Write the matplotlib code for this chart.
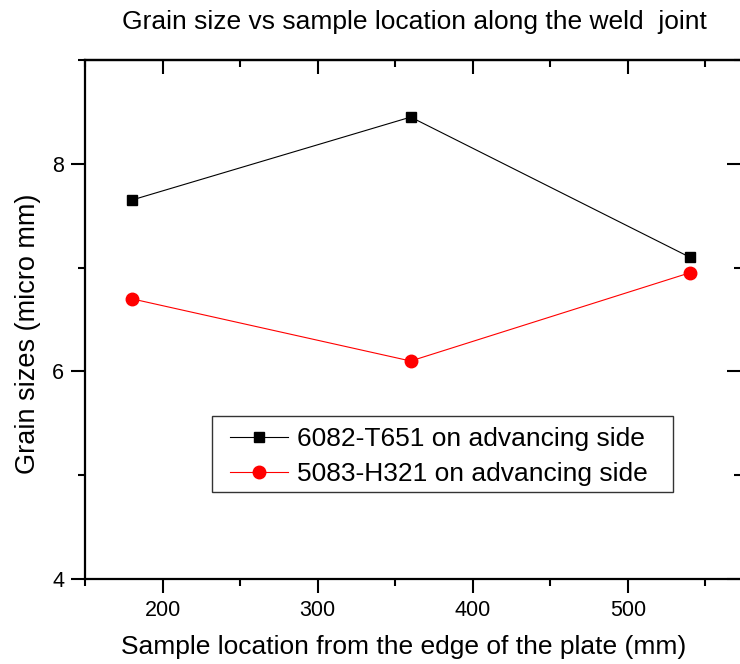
import matplotlib.pyplot as plt
from matplotlib.patches import Rectangle
from matplotlib.ticker import MultipleLocator

plt.rcParams['font.family'] = ['Liberation Sans', 'DejaVu Sans']

# sample positions (mm) and grain sizes
location = [180, 360, 540]
grain_6082 = [7.65, 8.45, 7.1]
grain_5083 = [6.7, 6.1, 6.95]

W, H = 740, 664
fig = plt.figure(figsize=(W / 100, H / 100), dpi=100)
ax = fig.add_axes([85 / W, 1 - 579 / H, 656 / W, 519 / H])

ax.plot(location, grain_6082, color='black', lw=0.8, marker='s', ms=7.5,
        label='6082-T651 on advancing side')
ax.plot(location, grain_5083, color='red', lw=0.8, marker='o', ms=9,
        label='5083-H321 on advancing side')

ax.set_xlim(150, 573)
ax.set_ylim(4, 9)
ax.xaxis.set_major_locator(MultipleLocator(100))
ax.xaxis.set_minor_locator(MultipleLocator(50))
ax.yaxis.set_major_locator(MultipleLocator(2))
ax.yaxis.set_minor_locator(MultipleLocator(1))

for s in ax.spines.values():
    s.set_linewidth(1.6)

ax.tick_params(which='both', direction='out', top=False, right=False, width=1.5)
ax.tick_params(which='major', length=10, labelsize=15.5, pad=5)
ax.tick_params(which='minor', length=5)

# inward ticks on the top and right edges, as in Origin
ax_top = ax.secondary_xaxis('top')
ax_top.xaxis.set_major_locator(MultipleLocator(100))
ax_top.xaxis.set_minor_locator(MultipleLocator(50))
ax_top.tick_params(which='both', direction='in', labeltop=False, width=1.5)
ax_top.tick_params(which='major', length=10)
ax_top.tick_params(which='minor', length=5)
ax_top.spines['top'].set_linewidth(1.6)

ax_right = ax.secondary_yaxis('right')
ax_right.yaxis.set_major_locator(MultipleLocator(2))
ax_right.yaxis.set_minor_locator(MultipleLocator(1))
ax_right.tick_params(which='both', direction='in', labelright=False, width=1.5)
ax_right.tick_params(which='major', length=10)
ax_right.tick_params(which='minor', length=5)

ax.set_xlabel('Sample location from the edge of the plate (mm)', fontsize=19)
ax.set_ylabel('Grain sizes (micro mm)', fontsize=19.5)
ax.xaxis.set_label_coords((404 - 85) / 656, -(635 - 579) / 519)
ax.yaxis.set_label_coords(-(85 - 41) / 656, (579 - 334) / 519)
fig.text(0.5 * (117 + 712) / W, 1 - 22 / H, 'Grain size vs sample location along the weld  joint',
         ha='center', va='center', fontsize=19)

leg = ax.legend(loc='upper left', bbox_to_anchor=((230 - 85) / 656, (579 - 427) / 519),
                fontsize=19, frameon=False, borderpad=0, labelspacing=0.42,
                handlelength=2.2, handletextpad=0.35, borderaxespad=0)
fig.add_artist(Rectangle((212 / W, 1 - 492 / H), (673 - 212) / W, (492 - 416) / H,
                         transform=fig.transFigure, fill=False, lw=1.0, ec='#333333'))

fig.savefig('out.png', dpi=100)
